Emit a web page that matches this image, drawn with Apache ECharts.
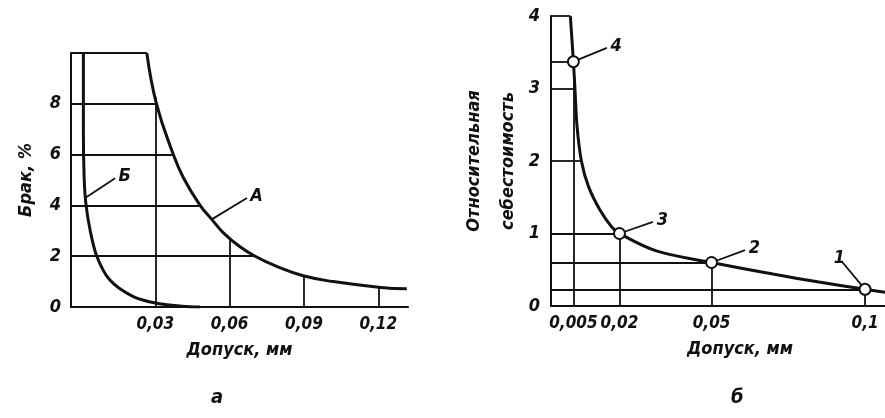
<!DOCTYPE html>
<html>
<head>
<meta charset="utf-8">
<script src="https://cdn.jsdelivr.net/npm/echarts@6/dist/echarts.min.js"></script>
<style>
  html, body { margin: 0; padding: 0; background: #fff; }
  #chart { width: 885px; height: 418px; }
</style>
</head>
<body>
<div id="chart"></div>
<script>
// --- график а: брак в зависимости от допуска ---
const aTicksX = [0.03, 0.06, 0.09, 0.12]
const aTicksY = [0, 2, 4, 6, 8]
// кривая А
const curveAX = [0.0266, 0.0305, 0.0373, 0.0413, 0.0481, 0.0528, 0.0575, 0.0642, 0.0703, 0.079, 0.0897, 0.1018, 0.121, 0.1315]
const curveAY = [10, 8, 6, 5.1, 4, 3.45, 2.92, 2.37, 2.0, 1.6, 1.23, 1.0, 0.77, 0.72]
// кривая Б
const curveBX = [0.001, 0.001, 0.0013, 0.002, 0.0037, 0.0064, 0.0117, 0.0211, 0.0306, 0.0427, 0.0481]
const curveBY = [10, 6.96, 5.12, 4.08, 3.03, 2.0, 1.06, 0.41, 0.15, 0.02, 0]
// линии от осей до кривой А
const aLevelY = [8, 6, 4, 2]
const aLevelX = [0.0305, 0.0373, 0.0481, 0.0703]
const aDropX = [0.03, 0.06, 0.09, 0.12]
const aDropY = [8.25, 2.72, 1.22, 0.78]
const aMinX = -0.004, aMaxX = 0.132, aMaxY = 10

// --- график б: относительная себестоимость ---
const bTicksX = [0.005, 0.02, 0.05, 0.1]
const bTicksY = [0, 1, 2, 3, 4]
const curveCX = [0.004, 0.005, 0.0055, 0.0062, 0.0076, 0.0099, 0.0137, 0.0175, 0.02, 0.032, 0.05, 0.07, 0.085, 0.1, 0.1065]
const curveCY = [4.0, 3.37, 3.0, 2.47, 2.0, 1.65, 1.32, 1.09, 1.0, 0.76, 0.6, 0.44, 0.33, 0.23, 0.19]
const pointX = [0.1, 0.05, 0.02, 0.005]
const pointY = [0.23, 0.6, 1.0, 3.37]
const pointNames = ['1', '2', '3', '4']
const pointLeadX = [0.0925, 0.0609, 0.0309, 0.0159]
const pointLeadY = [0.61, 0.77, 1.16, 3.56]
const bLevelY = [3, 2]
const bLevelX = [0.0055, 0.0076]
const bMinX = -0.0023, bMaxX = 0.1065, bMaxY = 4

const ink = '#111'
const font = "'DejaVu Sans Condensed', 'Liberation Sans Narrow', 'DejaVu Sans', sans-serif"
const txt = { color: ink, fontStyle: 'italic', fontWeight: 'bold', fontFamily: font, fontSize: 18 }
const comma = v => String(v).replace('.', ',')
const zip = (xs, ys) => xs.map((x, i) => [x, ys[i]])

// отрезки сетки (от оси до кривой)
const aSegments = [
  { coords: [[aMinX, aMaxY], [curveAX[0], aMaxY]] },
  ...aLevelY.map((y, i) => ({ coords: [[aMinX, y], [aLevelX[i], y]] })),
  ...aDropX.map((x, i) => ({ coords: [[x, 0], [x, aDropY[i]]] }))
]
const bSegments = [
  { coords: [[bMinX, bMaxY], [curveCX[0], bMaxY]] },
  ...bLevelY.map((y, i) => ({ coords: [[bMinX, y], [bLevelX[i], y]] })),
  ...pointY.map((y, i) => ({ coords: [[bMinX, y], [pointX[i], y]] })),
  ...pointX.map((x, i) => ({ coords: [[x, 0], [x, pointY[i]]] }))
]

const axisCommon = {
  axisLine: { onZero: false, lineStyle: { color: ink, width: 2 } },
  axisTick: { show: false },
  splitLine: { show: false }
}

const chart = echarts.init(document.getElementById('chart'), null, { renderer: 'canvas' })

chart.setOption({
  backgroundColor: '#fff',
  animation: false,
  grid: [
    { left: 71, top: 53, width: 337, height: 254 },
    { left: 551, top: 16, width: 334, height: 290 }
  ],
  xAxis: [
    {
      ...axisCommon, gridIndex: 0, type: 'value', min: aMinX, max: aMaxX,
      axisLabel: { ...txt, fontSize: 17, margin: 9, customValues: aTicksX, formatter: comma },
      name: 'Допуск, мм', nameLocation: 'middle', nameGap: 34, nameTextStyle: { ...txt }
    },
    {
      ...axisCommon, gridIndex: 1, type: 'value', min: bMinX, max: bMaxX,
      axisLabel: { ...txt, fontSize: 17, margin: 9, customValues: bTicksX, formatter: comma },
      name: 'Допуск, мм', nameLocation: 'middle', nameGap: 34,
      nameTextStyle: { ...txt, padding: [0, 0, 0, 44] }
    }
  ],
  yAxis: [
    {
      ...axisCommon, gridIndex: 0, type: 'value', min: 0, max: aMaxY,
      axisLabel: { ...txt, margin: 10, customValues: aTicksY },
      name: 'Брак, %', nameLocation: 'middle', nameGap: 36, nameTextStyle: { ...txt }
    },
    {
      ...axisCommon, gridIndex: 1, type: 'value', min: 0, max: bMaxY, interval: 1,
      axisLabel: { ...txt, margin: 11, customValues: bTicksY },
      name: 'Относительная\nсебестоимость', nameLocation: 'middle', nameGap: 26,
      nameTextStyle: { ...txt, lineHeight: 34 }
    }
  ],
  series: [
    {
      type: 'lines', coordinateSystem: 'cartesian2d', xAxisIndex: 0, yAxisIndex: 0,
      lineStyle: { color: ink, width: 1.8, opacity: 1 }, silent: true, data: aSegments
    },
    {
      type: 'lines', coordinateSystem: 'cartesian2d', xAxisIndex: 1, yAxisIndex: 1,
      lineStyle: { color: ink, width: 1.8, opacity: 1 }, silent: true, data: bSegments
    },
    {
      name: 'А', type: 'line', xAxisIndex: 0, yAxisIndex: 0, data: zip(curveAX, curveAY),
      smooth: 0.45, showSymbol: false, lineStyle: { color: ink, width: 3 }
    },
    {
      name: 'Б', type: 'line', xAxisIndex: 0, yAxisIndex: 0, data: zip(curveBX, curveBY),
      smooth: 0.3, showSymbol: false, lineStyle: { color: ink, width: 3 }
    },
    {
      // выноски А и Б
      type: 'lines', coordinateSystem: 'cartesian2d', xAxisIndex: 0, yAxisIndex: 0,
      lineStyle: { color: ink, width: 1.8, opacity: 1 },
      label: { show: true, position: 'end', formatter: '{b}', ...txt, distance: 4 },
      data: [
        { name: 'Б', coords: [[0.0017, 4.29], [0.0138, 5.07]] },
        { name: 'А', coords: [[0.0528, 3.45], [0.067, 4.29]] }
      ]
    },
    {
      name: 'Себестоимость', type: 'line', xAxisIndex: 1, yAxisIndex: 1, data: zip(curveCX, curveCY),
      smooth: 0.35, showSymbol: false, lineStyle: { color: ink, width: 3 }
    },
    {
      type: 'lines', coordinateSystem: 'cartesian2d', xAxisIndex: 1, yAxisIndex: 1,
      lineStyle: { color: ink, width: 1.8, opacity: 1 },
      label: { show: true, position: 'end', formatter: '{b}', ...txt, distance: 4 },
      data: pointX.map((x, i) => ({
        name: pointNames[i], coords: [[x, pointY[i]], [pointLeadX[i], pointLeadY[i]]]
      }))
    },
    {
      type: 'scatter', xAxisIndex: 1, yAxisIndex: 1, z: 10, data: zip(pointX, pointY),
      symbol: 'circle', symbolSize: 11,
      itemStyle: { color: '#fff', borderColor: ink, borderWidth: 2, opacity: 1 }
    }
  ],
  graphic: [
    { type: 'text', left: 211, top: 388, style: { text: 'а', font: `italic bold 20px ${font}`, fill: ink } },
    { type: 'text', left: 731, top: 388, style: { text: 'б', font: `italic bold 20px ${font}`, fill: ink } }
  ]
})
</script>
</body>
</html>
